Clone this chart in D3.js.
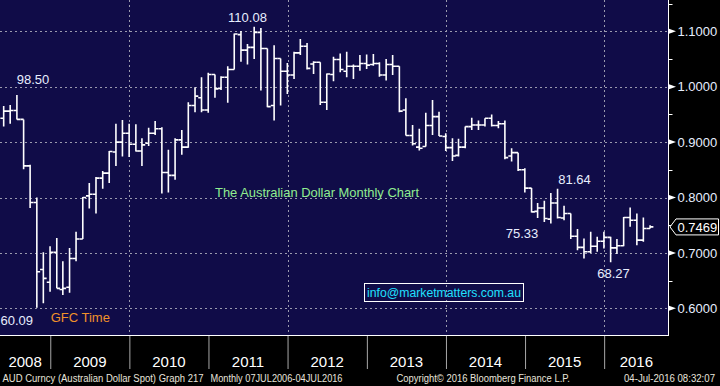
<!DOCTYPE html>
<html>
<head>
<meta charset="utf-8">
<script src="https://cdnjs.cloudflare.com/ajax/libs/d3/7.8.5/d3.min.js"></script>
<style>
  body { margin: 0; background: #000; }
  svg { display: block; }
</style>
</head>
<body>
<div id="chart"></div>
<script>
// AUD/USD monthly bars, May 2008 - Jul 2016
var months = [
  "2008-05","2008-06","2008-07","2008-08","2008-09","2008-10","2008-11","2008-12",
  "2009-01","2009-02","2009-03","2009-04","2009-05","2009-06","2009-07","2009-08","2009-09","2009-10","2009-11","2009-12",
  "2010-01","2010-02","2010-03","2010-04","2010-05","2010-06","2010-07","2010-08","2010-09","2010-10","2010-11","2010-12",
  "2011-01","2011-02","2011-03","2011-04","2011-05","2011-06","2011-07","2011-08","2011-09","2011-10","2011-11","2011-12",
  "2012-01","2012-02","2012-03","2012-04","2012-05","2012-06","2012-07","2012-08","2012-09","2012-10","2012-11","2012-12",
  "2013-01","2013-02","2013-03","2013-04","2013-05","2013-06","2013-07","2013-08","2013-09","2013-10","2013-11","2013-12",
  "2014-01","2014-02","2014-03","2014-04","2014-05","2014-06","2014-07","2014-08","2014-09","2014-10","2014-11","2014-12",
  "2015-01","2015-02","2015-03","2015-04","2015-05","2015-06","2015-07","2015-08","2015-09","2015-10","2015-11","2015-12",
  "2016-01","2016-02","2016-03","2016-04","2016-05","2016-06","2016-07"
];
var opens = [
  0.943,0.956,0.957,0.941,0.857,0.791,0.670,0.647,
  0.701,0.634,0.638,0.690,0.725,0.803,0.806,0.835,0.844,0.882,0.900,0.916,
  0.896,0.884,0.898,0.916,0.924,0.845,0.840,0.904,0.891,0.966,0.980,0.958,
  1.022,0.997,1.017,1.031,1.094,1.066,1.071,1.098,1.069,0.966,1.051,1.028,
  1.021,1.061,1.073,1.041,1.044,0.972,1.022,1.049,1.028,1.037,1.037,1.042,
  1.040,1.042,1.021,1.040,1.037,0.958,0.912,0.891,0.892,0.930,0.946,0.910,
  0.890,0.876,0.891,0.928,0.931,0.931,0.943,0.930,0.933,0.875,0.881,0.850,
  0.817,0.775,0.781,0.761,0.790,0.763,0.771,0.730,0.710,0.702,0.712,0.721,
  0.728,0.709,0.713,0.764,0.759,0.723,0.744
];
var highs = [
  0.965,0.967,0.985,0.941,0.859,0.800,0.701,0.712,
  0.727,0.685,0.709,0.738,0.801,0.826,0.837,0.848,0.884,0.933,0.940,0.933,
  0.932,0.907,0.926,0.938,0.927,0.886,0.907,0.922,0.972,0.999,1.017,1.025,
  1.022,1.019,1.037,1.096,1.1005,1.077,1.108,1.106,1.069,1.075,1.051,1.043,
  1.063,1.086,1.079,1.046,1.044,1.024,1.054,1.060,1.063,1.040,1.057,1.058,
  1.059,1.044,1.050,1.057,1.037,0.979,0.931,0.924,0.953,0.976,0.955,0.916,
  0.907,0.906,0.928,0.944,0.939,0.943,0.950,0.938,0.939,0.889,0.881,0.853,
  0.817,0.790,0.794,0.808,0.816,0.785,0.771,0.743,0.726,0.738,0.729,0.738,
  0.729,0.725,0.765,0.782,0.771,0.764,0.750
];
var lows = [
  0.928,0.933,0.941,0.851,0.781,0.601,0.609,0.630,
  0.636,0.624,0.628,0.685,0.725,0.780,0.771,0.816,0.826,0.857,0.874,0.873,
  0.883,0.857,0.893,0.913,0.807,0.809,0.832,0.877,0.890,0.954,0.954,0.953,
  0.980,0.994,0.971,1.031,1.045,1.040,1.050,0.993,0.963,0.939,0.966,0.987,
  1.014,1.057,1.031,1.023,0.967,0.958,1.010,1.026,1.017,1.014,1.029,1.032,
  1.038,1.018,1.011,1.021,0.954,0.912,0.894,0.885,0.892,0.913,0.911,0.884,
  0.866,0.874,0.889,0.922,0.922,0.928,0.928,0.925,0.869,0.865,0.848,0.809,
  0.773,0.763,0.756,0.753,0.762,0.759,0.725,0.705,0.690,0.700,0.702,0.708,
  0.683,0.698,0.712,0.747,0.714,0.720,0.744
];
var closes = [
  0.956,0.957,0.941,0.857,0.791,0.666,0.654,0.701,
  0.636,0.636,0.690,0.725,0.800,0.806,0.835,0.844,0.883,0.900,0.916,0.896,
  0.884,0.895,0.916,0.924,0.845,0.840,0.904,0.891,0.966,0.983,0.958,1.022,
  0.996,1.017,1.031,1.095,1.066,1.071,1.098,1.069,0.964,1.051,1.028,1.021,
  1.061,1.073,1.033,1.044,0.972,1.023,1.049,1.031,1.037,1.037,1.042,1.039,
  1.042,1.021,1.040,1.037,0.956,0.912,0.897,0.889,0.930,0.946,0.911,0.890,
  0.875,0.891,0.928,0.931,0.931,0.943,0.930,0.933,0.872,0.881,0.850,0.817,
  0.774,0.781,0.762,0.790,0.764,0.771,0.730,0.710,0.702,0.712,0.721,0.728,
  0.709,0.713,0.764,0.759,0.723,0.744,0.7469
];
var lastPrice = 0.7469;

var yTicks = [0.6, 0.7, 0.8, 0.9, 1.0, 1.1];
var yMinor = [0.65, 0.75, 0.85, 0.95, 1.05, 1.15];
var years = [2008, 2009, 2010, 2011, 2012, 2013, 2014, 2015, 2016];
var gridYears = [2010, 2012, 2014, 2016];

var svgWidth = 720;
var svgHeight = 386;
var plotW = 668.5;
var plotH = 335.5;

var svg = d3.select("#chart")
  .append("svg")
  .attr("width", svgWidth)
  .attr("height", svgHeight)
  .style("font-family", "'Liberation Sans', Arial, sans-serif");

svg.append("rect").attr("width", svgWidth).attr("height", svgHeight).attr("fill", "#000");
svg.append("rect").attr("width", plotW).attr("height", plotH).attr("fill", "#100c48");

// scales: monthly bars are stamped at month end
var x = d3.scaleTime()
  .domain([new Date(2008, 4, 14), new Date(2016, 9, 24)])
  .range([0, plotW]);
var y = d3.scaleLinear()
  .domain([0.6, 1.1])
  .range([308.3, 31.3]);

var parseMonth = d3.timeParse("%Y-%m");
var bars = months.map(function(m, i) {
  var start = parseMonth(m);
  return {
    date: d3.timeDay.offset(d3.timeMonth.offset(start, 1), -1),
    open: opens[i], high: highs[i], low: lows[i], close: closes[i]
  };
});

// grid
var grid = svg.append("g")
  .attr("stroke", "#9a9aae")
  .attr("stroke-width", 1)
  .attr("stroke-dasharray", "2,3");
grid.selectAll("line.h")
  .data(yTicks)
  .enter().append("line")
  .attr("class", "h")
  .attr("x1", 0).attr("x2", plotW)
  .attr("y1", d => Math.round(y(d)) + 0.5)
  .attr("y2", d => Math.round(y(d)) + 0.5);
grid.selectAll("line.v")
  .data(gridYears)
  .enter().append("line")
  .attr("class", "v")
  .attr("x1", d => Math.round(x(new Date(d, 0, 1))) + 0.5)
  .attr("x2", d => Math.round(x(new Date(d, 0, 1))) + 0.5)
  .attr("y1", 0).attr("y2", plotH);

// OHLC bars
svg.append("clipPath").attr("id", "plotClip")
  .append("rect").attr("width", plotW).attr("height", plotH);

var tick = 3.3;
svg.append("g")
  .attr("clip-path", "url(#plotClip)")
  .selectAll("path")
  .data(bars)
  .enter().append("path")
  .attr("d", function(d) {
    var cx = x(d.date);
    return "M" + cx + "," + y(d.high) + "V" + y(d.low) +
      "M" + (cx - tick) + "," + y(d.open) + "H" + cx +
      "M" + cx + "," + y(d.close) + "H" + (cx + tick);
  })
  .attr("fill", "none")
  .attr("stroke", "#fff")
  .attr("stroke-width", 1.6);

// plot border (right + bottom)
svg.append("line").attr("x1", plotW).attr("x2", plotW).attr("y1", 0).attr("y2", plotH + 0.5)
  .attr("stroke", "#fff").attr("stroke-width", 1);
svg.append("line").attr("x1", 0).attr("x2", plotW).attr("y1", plotH).attr("y2", plotH)
  .attr("stroke", "#fff").attr("stroke-width", 1);

// right axis
var rightAxis = d3.axisRight(y)
  .tickValues(yTicks)
  .tickSize(0)
  .tickPadding(9)
  .tickFormat(d3.format(".4f"));
var ra = svg.append("g")
  .attr("transform", `translate(${plotW}, 0)`)
  .call(rightAxis);
ra.select(".domain").remove();
ra.selectAll("text").attr("fill", "#e6eeff").attr("font-size", 13);

ra.selectAll(".marker")
  .data(yTicks)
  .enter().append("path")
  .attr("class", "marker")
  .attr("d", d => "M0.5," + (y(d) - 2.5) + "L7.5," + y(d) + "L0.5," + (y(d) + 2.5) + "Z")
  .attr("fill", "#fff");
ra.selectAll(".minor")
  .data(yMinor)
  .enter().append("line")
  .attr("class", "minor")
  .attr("x1", 0).attr("x2", 4)
  .attr("y1", d => Math.round(y(d)) + 0.5)
  .attr("y2", d => Math.round(y(d)) + 0.5)
  .attr("stroke", "#fff");

// last price flag
var yl = y(lastPrice);
svg.append("path")
  .attr("d", `M${plotW + 1.5},${yl} L${plotW + 7.5},${yl - 8} H718.5 V${yl + 8} H${plotW + 7.5} Z`)
  .attr("fill", "#000")
  .attr("stroke", "#fff")
  .attr("stroke-width", 1);
svg.append("text")
  .attr("x", 677.5).attr("y", yl + 4.6)
  .attr("fill", "#fff").attr("font-size", 13)
  .text(d3.format(".4f")(lastPrice));

// bottom axis: year separators + centred year labels
var yearStarts = years.slice(1).map(d => new Date(d, 0, 1));
var bottomAxis = d3.axisBottom(x)
  .tickValues(yearStarts)
  .tickSize(33)
  .tickFormat("");
var ba = svg.append("g")
  .attr("transform", `translate(0, ${plotH + 0.5})`)
  .call(bottomAxis);
ba.select(".domain").remove();
ba.selectAll("line").attr("stroke", "#a8a8a8");

svg.append("g").selectAll("text")
  .data(years)
  .enter().append("text")
  .attr("x", function(d) {
    var a = Math.max(x(new Date(d, 0, 1)), 0);
    var b = Math.min(x(new Date(d + 1, 0, 1)), plotW);
    return (a + b) / 2;
  })
  .attr("y", 367)
  .attr("text-anchor", "middle")
  .attr("fill", "#fff")
  .attr("font-family", "'Liberation Sans Narrow', 'Arial Narrow', sans-serif")
  .attr("font-size", 15)
  .text(d => d);

// footer
var footer = svg.append("g")
  .attr("fill", "#e8e4dc")
  .attr("font-family", "'Liberation Sans Narrow', 'Arial Narrow', sans-serif")
  .attr("font-size", 10);
footer.append("text").attr("x", 2.5).attr("y", 382)
  .attr("textLength", 201).attr("lengthAdjust", "spacingAndGlyphs")
  .text("AUD Curncy (Australian Dollar Spot) Graph 217");
footer.append("text").attr("x", 210.5).attr("y", 382)
  .attr("textLength", 132).attr("lengthAdjust", "spacingAndGlyphs")
  .text("Monthly 07JUL2006-04JUL2016");
footer.append("text").attr("x", 396.5).attr("y", 382)
  .attr("textLength", 173.5).attr("lengthAdjust", "spacingAndGlyphs")
  .text("Copyright\u00A9 2016 Bloomberg Finance L.P.");
footer.append("text").attr("x", 624).attr("y", 382)
  .attr("textLength", 91).attr("lengthAdjust", "spacingAndGlyphs")
  .text("04-Jul-2016 08:32:07");

// annotations
var notes = svg.append("g").attr("font-size", 13);
notes.append("text").attr("x", 33).attr("y", 84).attr("text-anchor", "middle").attr("fill", "#e8eeff").text("98.50");
notes.append("text").attr("x", 247.5).attr("y", 21.7).attr("text-anchor", "middle").attr("fill", "#e8eeff").text("110.08");
notes.append("text").attr("x", 0.5).attr("y", 325).attr("fill", "#e8eeff").text("60.09");
notes.append("text").attr("x", 50.7).attr("y", 322.3).attr("fill", "#f0922a").text("GFC Time");
notes.append("text").attr("x", 215).attr("y", 197.3).attr("fill", "#90ee90")
  .attr("textLength", 204).attr("lengthAdjust", "spacingAndGlyphs")
  .text("The Australian Dollar Monthly Chart");
notes.append("text").attr("x", 558.3).attr("y", 184).attr("fill", "#e8eeff").text("81.64");
notes.append("text").attr("x", 505.7).attr("y", 237.7).attr("fill", "#e8eeff").text("75.33");
notes.append("text").attr("x", 597.3).attr("y", 277.7).attr("fill", "#e8eeff").text("68.27");

svg.append("rect")
  .attr("x", 364.5).attr("y", 283.5).attr("width", 159).attr("height", 18)
  .attr("fill", "none").attr("stroke", "#fff").attr("stroke-width", 1);
svg.append("text")
  .attr("x", 367).attr("y", 297)
  .attr("fill", "#20e0ff").attr("font-size", 12.5)
  .attr("textLength", 154).attr("lengthAdjust", "spacingAndGlyphs")
  .text("info@marketmatters.com.au");
</script>
</body>
</html>
